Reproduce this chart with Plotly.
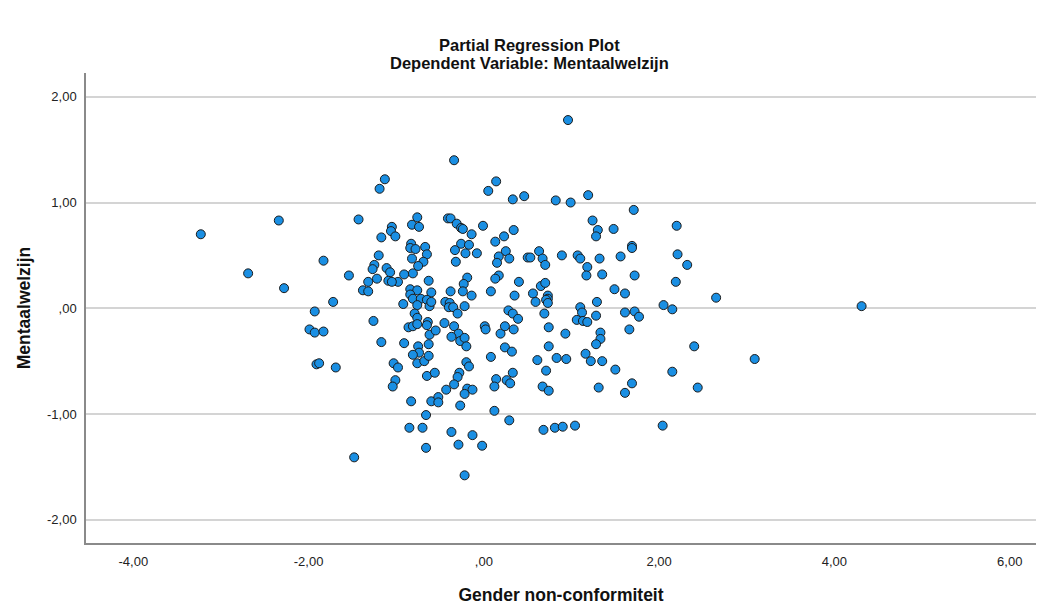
import plotly.graph_objects as go

# Partial regression residuals: Gender non-conformiteit (x) vs Mentaalwelzijn (y)
gender_nc = [
    -3.23, -2.34, -1.83, -2.69, -2.28, -1.72, -1.93, -1.99, -1.93, -1.83, -1.91, -1.88, -1.69,
    -1.13, -1.19, -1.43, -0.76, -0.82, -0.74, -1.05, -1.06, -1.01, -1.17, -0.83, -0.67, -0.84,
    -0.78, -0.65, -1.20, -0.82, -0.69, -1.25, -1.27, -0.75, -1.11, -1.07, -0.81, -0.91, -1.54,
    -1.22, -1.09, -0.98, -0.63, -1.05, -1.32, -1.38, -1.32, -0.84, -0.76, -0.60, -0.84, -0.81,
    -0.72, -0.65, -0.92, -0.76, -0.62,
    -1.26, -0.79, -0.76, -0.86, -0.81, -0.76, -0.64, -0.65, -0.62, -1.17, -0.91, -0.75, -0.74,
    -0.63, -0.81, -0.76, -0.68, -0.63, -1.03, -0.98, -1.01, -1.04, -0.65, -0.83, -0.60, -0.66,
    -0.85, -0.70, -0.66, -1.48,
    -0.34, 0.14, 0.05, 0.33, 0.46, -0.41, -0.38, -0.31, -0.26, -0.24, -0.01, -0.14, 0.34, 0.23,
    0.13, -0.26, -0.17, -0.33, -0.21, -0.08, 0.25, 0.17, 0.29, 0.15, -0.32, 0.50, 0.17, 0.13,
    -0.19, -0.23, -0.24, 0.40, -0.38, -0.14, 0.08, 0.35, -0.60, -0.44, -0.39, -0.40, -0.22, 0.28,
    -0.52, -0.52, -0.56, -0.45, -0.55, -0.35, -0.30, -0.34, -0.29, -0.37, -0.27, -0.22, -0.20,
    -0.20, -0.17, -0.28, -0.30, -0.34, -0.43, -0.19, -0.13, -0.22, -0.27, -0.37, -0.29, -0.13,
    -0.02, -0.22, 0.01, 0.02, 0.08, 0.19, 0.24, 0.34, 0.33, 0.39, 0.24, 0.32, 0.14, 0.12, 0.26,
    0.30, 0.33, 0.12, 0.29,
    0.96, 0.82, 0.99, 1.19, 1.71, 1.24, 1.30, 1.28, 1.48, 1.69, 1.69, 0.63, 0.53, 0.67, 0.70,
    0.89, 1.07, 1.10, 1.32, 1.56, 1.18, 1.17, 1.35, 1.72, 0.65, 0.70, 0.56, 0.59, 0.73, 0.73,
    0.71, 0.73, 1.49, 1.61, 1.29, 1.10,
    0.69, 0.74, 0.93, 1.12, 1.06, 1.13, 1.18, 1.28, 1.61, 1.72, 1.77, 1.66, 1.33, 1.33, 1.28,
    0.74, 1.16, 1.22, 1.35, 0.83, 0.94, 0.61, 0.71, 1.50, 0.67, 0.74, 1.31, 1.69, 1.61, 0.68,
    0.81, 0.90, 1.04,
    2.20, 2.21, 2.32, 2.19, 2.65, 2.05, 2.15, 4.31, 2.40, 3.09, 2.15, 2.44, 2.04,
]

mentaal = [
    0.70, 0.83, 0.45, 0.33, 0.19, 0.06, -0.03, -0.20, -0.23, -0.22, -0.53, -0.52, -0.56,
    1.22, 1.13, 0.84, 0.86, 0.79, 0.77, 0.77, 0.73, 0.68, 0.67, 0.61, 0.58, 0.57,
    0.56, 0.51, 0.50, 0.47, 0.44, 0.41, 0.37, 0.40, 0.38, 0.34, 0.33, 0.32, 0.31,
    0.28, 0.26, 0.25, 0.26, 0.25, 0.25, 0.17, 0.16, 0.18, 0.17, 0.15, 0.13, 0.09,
    0.09, 0.08, 0.04, 0.03, 0.02,
    -0.12, -0.05, -0.09, -0.18, -0.17, -0.15, -0.13, -0.16, -0.25, -0.32, -0.33, -0.36, -0.42,
    -0.34, -0.44, -0.52, -0.50, -0.45, -0.52, -0.56, -0.68, -0.74, -0.64, -0.88, -0.88, -1.01,
    -1.13, -1.13, -1.32, -1.41,
    1.40, 1.20, 1.11, 1.03, 1.06, 0.85, 0.85, 0.80, 0.76, 0.75, 0.78, 0.70, 0.74, 0.68,
    0.63, 0.61, 0.60, 0.55, 0.52, 0.52, 0.54, 0.49, 0.47, 0.43, 0.44, 0.48, 0.31, 0.28,
    0.29, 0.23, 0.16, 0.25, 0.16, 0.12, 0.16, 0.12, 0.06, 0.06, 0.05, 0.01, 0.02, -0.02,
    -0.84, -0.89, -0.61, -0.14, -0.21, 0.01, -0.05, -0.17, -0.24, -0.27, -0.31, -0.28, -0.36,
    -0.51, -0.55, -0.61, -0.65, -0.72, -0.77, -0.76, -0.77, -0.81, -0.92, -1.17, -1.29, -1.20,
    -1.30, -1.58, -0.17, -0.20, -0.46, -0.24, -0.17, -0.20, -0.05, -0.10, -0.37, -0.41, -0.67, -0.74, -0.68,
    -0.71, -0.61, -0.97, -1.06,
    1.78, 1.02, 1.00, 1.07, 0.93, 0.83, 0.74, 0.68, 0.75, 0.59, 0.57, 0.54, 0.48, 0.47, 0.41,
    0.50, 0.50, 0.47, 0.47, 0.49, 0.39, 0.31, 0.32, 0.31, 0.21, 0.24, 0.14, 0.06, 0.12, 0.09,
    0.08, 0.05, 0.18, 0.14, 0.06, 0.01,
    -0.05, -0.18, -0.24, -0.04, -0.11, -0.12, -0.13, -0.07, -0.04, -0.03, -0.08, -0.20, -0.23, -0.29, -0.34,
    -0.36, -0.43, -0.50, -0.50, -0.47, -0.48, -0.49, -0.59, -0.58, -0.74, -0.78, -0.75, -0.71, -0.80, -1.15,
    -1.13, -1.12, -1.11,
    0.78, 0.51, 0.41, 0.25, 0.10, 0.03, -0.01, 0.02, -0.36, -0.48, -0.60, -0.75, -1.11,
]

x_tick_vals = [-4, -2, 0, 2, 4, 6]
x_tick_text = ["-4,00", "-2,00", ",00", "2,00", "4,00", "6,00"]
y_tick_vals = [-2, -1, 0, 1, 2]
y_tick_text = ["-2,00", "-1,00", ",00", "1,00", "2,00"]

FONT = "Liberation Sans, Arial, sans-serif"

fig = go.Figure(
    go.Scatter(
        x=gender_nc,
        y=mentaal,
        mode="markers",
        marker=dict(size=9, color="#1a8fe3", line=dict(color="#1b1b1b", width=1)),
        hoverinfo="x+y",
    )
)

fig.update_layout(
    width=1046,
    height=611,
    margin=dict(l=86, r=10, t=73, b=68),
    paper_bgcolor="white",
    plot_bgcolor="white",
    font=dict(family=FONT, color="#222222"),
    showlegend=False,
    annotations=[
        dict(text="<b>Partial Regression Plot</b>", xref="paper", yref="paper",
             x=0.467, y=1.059, xanchor="center", yanchor="middle",
             showarrow=False, font=dict(size=16.5, color="#111111")),
        dict(text="<b>Dependent Variable: Mentaalwelzijn</b>", xref="paper", yref="paper",
             x=0.467, y=1.021, xanchor="center", yanchor="middle",
             showarrow=False, font=dict(size=16.5, color="#111111")),
    ],
)

fig.update_xaxes(
    range=[-4.54, 6.30],
    tickvals=x_tick_vals,
    ticktext=x_tick_text,
    tickfont=dict(size=13, color="#222222"),
    ticks="",
    ticklabelstandoff=6,
    showgrid=False,
    zeroline=False,
    showline=True,
    linecolor="#8a8a8a",
    linewidth=1.5,
    title=dict(text="<b>Gender non-conformiteit</b>", font=dict(size=17.5, color="#111111"), standoff=20),
)

fig.update_yaxes(
    range=[-2.22, 2.225],
    tickvals=y_tick_vals,
    ticktext=y_tick_text,
    tickfont=dict(size=13, color="#222222"),
    ticks="",
    ticklabelstandoff=5,
    showgrid=True,
    gridcolor="#d4d4d4",
    gridwidth=1.5,
    zeroline=False,
    showline=True,
    linecolor="#8a8a8a",
    linewidth=1.5,
    title=dict(text="<b>Mentaalwelzijn</b>", font=dict(size=17.5, color="#111111"), standoff=12),
)

fig.write_html("out.html")
